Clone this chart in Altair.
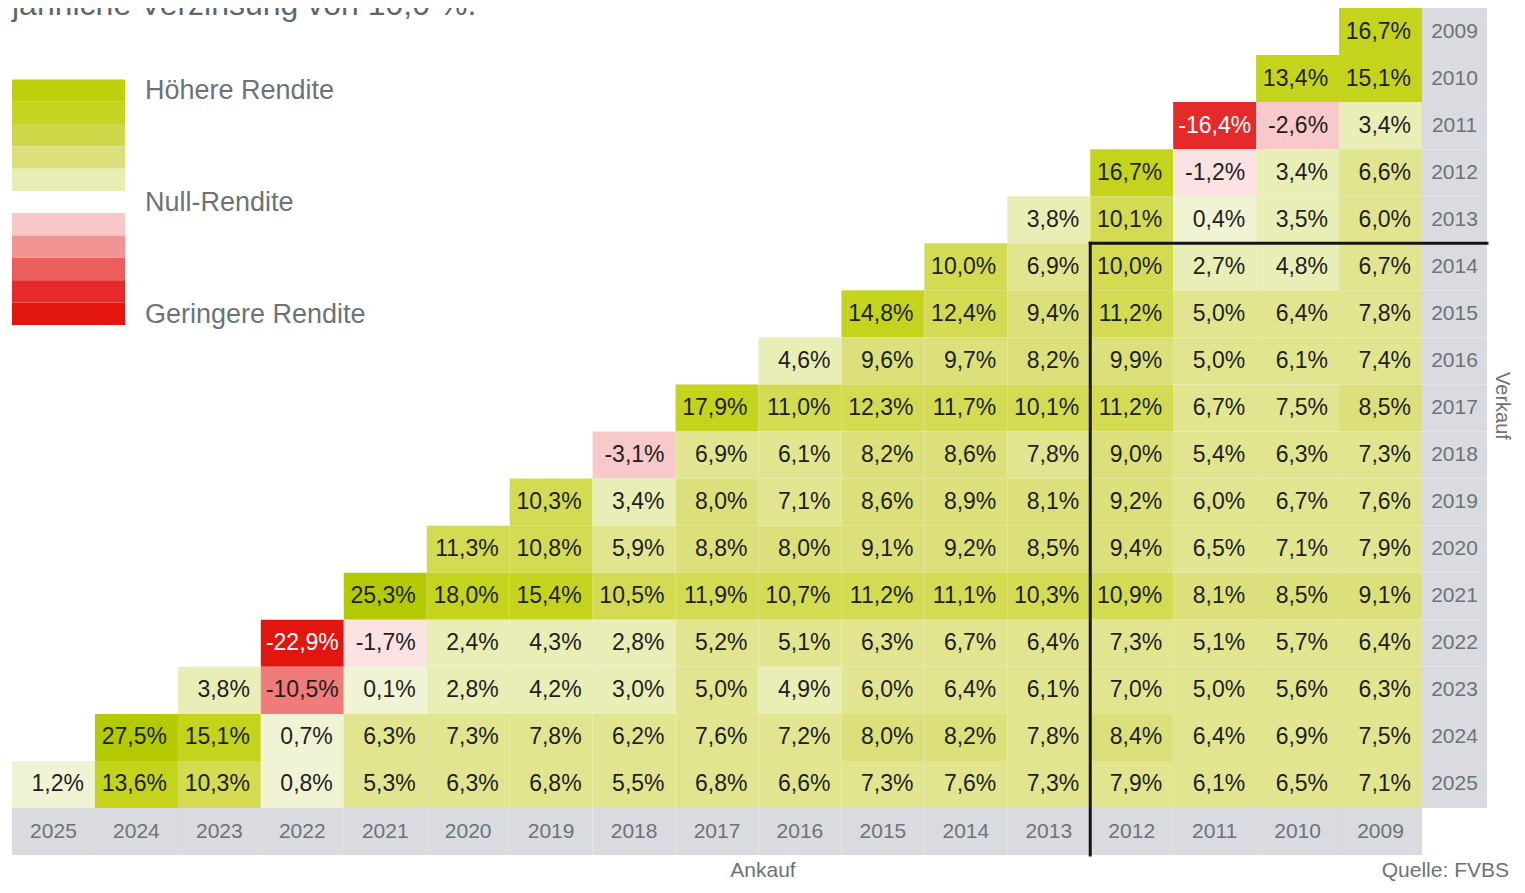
import altair as alt
import pandas as pd

# --- Daten ------------------------------------------------------------
ankauf_jahre = [str(y) for y in range(2025, 2008, -1)]   # Spalten links -> rechts
verkauf_jahre = [str(y) for y in range(2009, 2026)]      # Zeilen oben -> unten

# Je Verkaufsjahr: Renditen von Ankauf = Verkaufsjahr bis Ankauf 2009
r2009 = [16.7]
r2010 = [13.4, 15.1]
r2011 = [-16.4, -2.6, 3.4]
r2012 = [16.7, -1.2, 3.4, 6.6]
r2013 = [3.8, 10.1, 0.4, 3.5, 6.0]
r2014 = [10.0, 6.9, 10.0, 2.7, 4.8, 6.7]
r2015 = [14.8, 12.4, 9.4, 11.2, 5.0, 6.4, 7.8]
r2016 = [4.6, 9.6, 9.7, 8.2, 9.9, 5.0, 6.1, 7.4]
r2017 = [17.9, 11.0, 12.3, 11.7, 10.1, 11.2, 6.7, 7.5, 8.5]
r2018 = [-3.1, 6.9, 6.1, 8.2, 8.6, 7.8, 9.0, 5.4, 6.3, 7.3]
r2019 = [10.3, 3.4, 8.0, 7.1, 8.6, 8.9, 8.1, 9.2, 6.0, 6.7, 7.6]
r2020 = [11.3, 10.8, 5.9, 8.8, 8.0, 9.1, 9.2, 8.5, 9.4, 6.5, 7.1, 7.9]
r2021 = [25.3, 18.0, 15.4, 10.5, 11.9, 10.7, 11.2, 11.1, 10.3, 10.9, 8.1, 8.5, 9.1]
r2022 = [-22.9, -1.7, 2.4, 4.3, 2.8, 5.2, 5.1, 6.3, 6.7, 6.4, 7.3, 5.1, 5.7, 6.4]
r2023 = [3.8, -10.5, 0.1, 2.8, 4.2, 3.0, 5.0, 4.9, 6.0, 6.4, 6.1, 7.0, 5.0, 5.6, 6.3]
r2024 = [27.5, 15.1, 0.7, 6.3, 7.3, 7.8, 6.2, 7.6, 7.2, 8.0, 8.2, 7.8, 8.4, 6.4, 6.9, 7.5]
r2025 = [1.2, 13.6, 10.3, 0.8, 5.3, 6.3, 6.8, 5.5, 6.8, 6.6, 7.3, 7.6, 7.3, 7.9, 6.1, 6.5, 7.1]

zeilen = [r2009, r2010, r2011, r2012, r2013, r2014, r2015, r2016, r2017,
          r2018, r2019, r2020, r2021, r2022, r2023, r2024, r2025]

# Farbstufen
schwellen = [-20, -12, -6, -2, 0, 2, 5, 8, 10, 13, 20]
stufen_farben = ["#e3150f", "#e52a2a", "#ef7b7a", "#f7c9ca", "#fbe3e3",
                 "#f1f4d4", "#e9edb6", "#e1e58f", "#dbe07a", "#d2db52",
                 "#c4d41c", "#b3c900"]

legende_farben = ["#bfcf0b", "#c6d421", "#cdd747", "#dbe07c", "#e8edb5",
                  "#f8c8c9", "#f09494", "#ea5f5d", "#e52a29", "#e3150f"]
legende_texte = ["Höhere Rendite", "Null-Rendite", "Geringere Rendite"]

# --- Tabellen ------------------------------------------------------------
rows = []
for v_str, werte in zip(verkauf_jahre, zeilen):
    v = int(v_str)
    for i, w in enumerate(werte):
        lab = f"{w:.1f}".replace(".", ",") + "%"
        rows.append({"verkauf": v_str, "ankauf": str(v - i), "wert": w,
                     "label": lab, "breit": len(lab) > 5})
df = pd.DataFrame(rows)

df_ank = pd.DataFrame({"ankauf": ankauf_jahre})
df_verk = pd.DataFrame({"verkauf": verkauf_jahre})

leg_rows = []
for i, f in enumerate(legende_farben[:5]):
    leg_rows.append({"y0": 71.5 + i * 22.3, "y1": 71.5 + (i + 1) * 22.3, "farbe": f})
for i, f in enumerate(legende_farben[5:]):
    leg_rows.append({"y0": 205 + i * 22.4, "y1": 205 + (i + 1) * 22.4, "farbe": f})
df_leg = pd.DataFrame(leg_rows)
df_legtxt = pd.DataFrame({"text": legende_texte, "y": [91, 203, 315]})

W, H = 1410, 800
GREY = "#d9dbe0"
TXTGREY = "#6c7377"
FONT = "Liberation Sans"

xs = alt.Scale(domain=ankauf_jahre, paddingInner=0, paddingOuter=0)
ys = alt.Scale(domain=verkauf_jahre, paddingInner=0, paddingOuter=0)
X = lambda **kw: alt.X("ankauf:O", scale=xs, axis=None, **kw)
Y = lambda **kw: alt.Y("verkauf:O", scale=ys, axis=None, **kw)

base = alt.Chart(df)

cells = base.mark_rect(strokeWidth=0).encode(
    x=X(), y=Y(),
    color=alt.Color("wert:Q", legend=None,
                    scale=alt.Scale(type="threshold", domain=schwellen, range=stufen_farben)),
)
txt_color = alt.condition(alt.datum.wert < -12, alt.value("white"), alt.value("#1e1e1e"))
cell_text = base.transform_filter(~alt.datum.breit).mark_text(
    align="right", baseline="middle", dx=30.5, fontSize=23, font=FONT).encode(
    x=X(), y=Y(), text="label:N", color=txt_color)
cell_text_wide = base.transform_filter(alt.datum.breit).mark_text(
    align="right", baseline="middle", dx=36.5, fontSize=23, font=FONT).encode(
    x=X(), y=Y(), text="label:N", color=txt_color)

# graue Beschriftungsleisten
row_bg = alt.Chart(df_ank).mark_rect(color=GREY).encode(
    x=X(), y=alt.value(H), y2=alt.value(847))
row_txt = alt.Chart(df_ank).mark_text(fontSize=21, font=FONT, color=TXTGREY,
                                      baseline="middle").encode(
    x=X(), y=alt.value(823.5), text="ankauf:N")
col_bg = alt.Chart(df_verk).mark_rect(color=GREY).encode(
    y=Y(), x=alt.value(W), x2=alt.value(1475))
col_txt = alt.Chart(df_verk).mark_text(fontSize=21, font=FONT, color=TXTGREY,
                                       baseline="middle").encode(
    y=Y(), x=alt.value(1442.5), text="verkauf:N")

# schwarze Markierung
df_mark = pd.DataFrame({"ankauf": ["2012"], "verkauf": ["2014"]})
vline = alt.Chart(df_mark).mark_rule(color="#151515", strokeWidth=3, strokeCap="square").encode(
    x=X(bandPosition=0), y=Y(bandPosition=0), y2=alt.value(847))
hline = alt.Chart(df_mark).mark_rule(color="#151515", strokeWidth=3, strokeCap="square").encode(
    x=X(bandPosition=0), y=Y(bandPosition=0), x2=alt.value(1475))

# Legende
leg = alt.Chart(df_leg).mark_rect(strokeWidth=0).encode(
    x=alt.value(0), x2=alt.value(113),
    y=alt.Y("y0:Q", scale=None, axis=None), y2="y1:Q",
    color=alt.Color("farbe:N", scale=None, legend=None))
leg_txt = alt.Chart(df_legtxt).mark_text(align="left", baseline="alphabetic", fontSize=27,
                                         font=FONT, color=TXTGREY).encode(
    x=alt.value(133), y=alt.Y("y:Q", scale=None, axis=None), text="text:N")

# Texte
df_one = pd.DataFrame({"a": [0]})
kopf = alt.Chart(df_one).mark_text(align="left", baseline="alphabetic", fontSize=32,
                                   font=FONT, color="#5f6669",
                                   text="jährliche Verzinsung von 10,0 %.").encode(
    x=alt.value(0), y=alt.value(7))
ankauf_t = alt.Chart(df_one).mark_text(align="center", baseline="alphabetic", fontSize=21,
                                       font=FONT, color=TXTGREY, text="Ankauf").encode(
    x=alt.value(751), y=alt.value(869))
quelle_t = alt.Chart(df_one).mark_text(align="right", baseline="alphabetic", fontSize=21,
                                       font=FONT, color=TXTGREY, text="Quelle: FVBS").encode(
    x=alt.value(1497), y=alt.value(869))
verkauf_t = alt.Chart(df_one).mark_text(align="center", baseline="middle", fontSize=20,
                                        font=FONT, color=TXTGREY, angle=90,
                                        text="Verkauf").encode(
    x=alt.value(1490), y=alt.value(398))

chart = alt.layer(
    row_bg, col_bg, cells, cell_text, cell_text_wide, row_txt, col_txt, vline, hline,
    leg, leg_txt, kopf, ankauf_t, quelle_t, verkauf_t
).resolve_scale(color="independent").properties(
    width=W, height=H,
    autosize=alt.AutoSizeParams(type="none"),
    padding={"left": 4, "top": 0, "right": 95, "bottom": 77},
    background="white",
).configure_view(stroke=None)

chart.save("out.html", embed_options={"renderer": "svg", "actions": False})
